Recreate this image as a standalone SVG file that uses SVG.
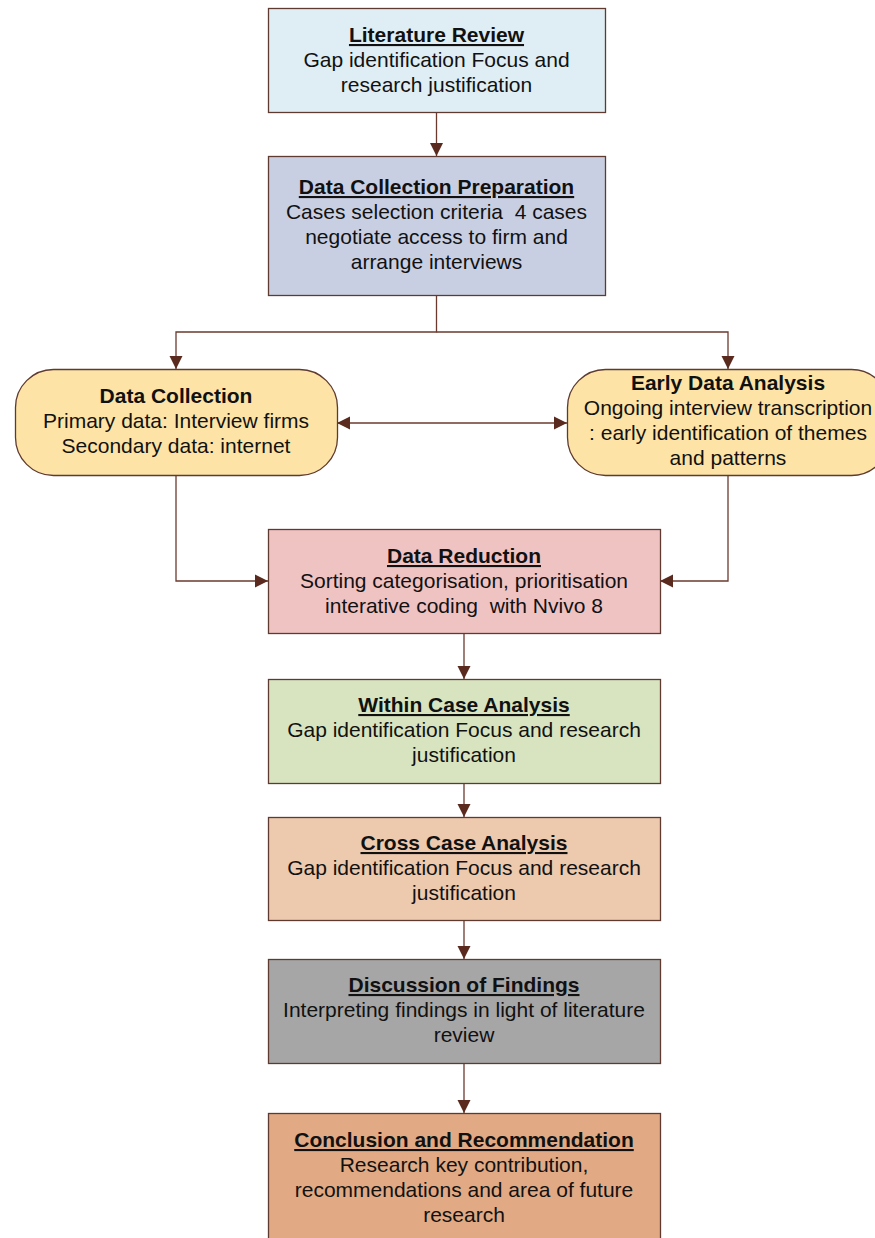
<svg xmlns="http://www.w3.org/2000/svg" width="875" height="1238" viewBox="0 0 875 1238">
<style>
.box{stroke:#5e3a30;stroke-width:1.3}
.t{font-family:"Liberation Sans",Arial,sans-serif;font-size:21px;fill:#111;text-anchor:middle}
.h{font-weight:bold;text-decoration:underline}
.hb{font-weight:bold}
.c{fill:none;stroke:#6b3a2e;stroke-width:1.3}
</style>
<defs>
<marker id="ah" markerUnits="userSpaceOnUse" markerWidth="14" markerHeight="14" viewBox="0 0 14 14" refX="13" refY="7" orient="auto-start-reverse">
<path d="M0,0.5 L13,7 L0,13.5 Z" fill="#5a2a1e"/>
</marker>
</defs>
<rect width="875" height="1238" fill="#fff"/>
<g id="connectors">
<line class="c" x1="436.5" y1="112" x2="436.5" y2="156" marker-end="url(#ah)"/>
<polyline class="c" points="436.5,295 436.5,332 176,332 176,369" marker-end="url(#ah)"/>
<polyline class="c" points="436.5,332 728,332 728,369" marker-end="url(#ah)"/>
<line class="c" x1="337" y1="423" x2="567" y2="423" marker-start="url(#ah)" marker-end="url(#ah)"/>
<polyline class="c" points="176,475 176,581 268,581" marker-end="url(#ah)"/>
<polyline class="c" points="728,475 728,581 660,581" marker-end="url(#ah)"/>
<line class="c" x1="464" y1="633" x2="464" y2="679" marker-end="url(#ah)"/>
<line class="c" x1="464" y1="783" x2="464" y2="817" marker-end="url(#ah)"/>
<line class="c" x1="464" y1="920" x2="464" y2="959" marker-end="url(#ah)"/>
<line class="c" x1="464" y1="1063" x2="464" y2="1113" marker-end="url(#ah)"/>
</g>
<g id="literature-review">
<rect class="box" x="268.5" y="8.5" width="337" height="104" fill="#deeef4"/>
<text class="t h" x="436.5" y="42">Literature Review</text>
<text class="t" x="436.5" y="67">Gap identification Focus and</text>
<text class="t" x="436.5" y="92">research justification</text>
</g>
<g id="data-collection-preparation">
<rect class="box" x="268.5" y="156.5" width="337" height="139" fill="#c9cfe2"/>
<text class="t h" x="436.5" y="194">Data Collection Preparation</text>
<text class="t" x="436.5" y="219" xml:space="preserve">Cases selection criteria  4 cases</text>
<text class="t" x="436.5" y="244">negotiate access to firm and</text>
<text class="t" x="436.5" y="269">arrange interviews</text>
</g>
<g id="data-collection">
<rect class="box" x="15.5" y="369.5" width="322" height="106" rx="38" fill="#fde4a6"/>
<text class="t hb" x="176" y="403">Data Collection</text>
<text class="t" x="176" y="428">Primary data: Interview firms</text>
<text class="t" x="176" y="453">Secondary data: internet</text>
</g>
<g id="early-data-analysis">
<rect class="box" x="567.5" y="369.5" width="322" height="106" rx="38" fill="#fde4a6"/>
<text class="t hb" x="728" y="390">Early Data Analysis</text>
<text class="t" x="728" y="415">Ongoing interview transcription</text>
<text class="t" x="728" y="440">: early identification of themes</text>
<text class="t" x="728" y="465">and patterns</text>
</g>
<g id="data-reduction">
<rect class="box" x="268.5" y="529.5" width="392" height="104" fill="#f0c3c3"/>
<text class="t h" x="464" y="563">Data Reduction</text>
<text class="t" x="464" y="588">Sorting categorisation, prioritisation</text>
<text class="t" x="464" y="613" xml:space="preserve">interative coding  with Nvivo 8</text>
</g>
<g id="within-case-analysis">
<rect class="box" x="268.5" y="679.5" width="392" height="104" fill="#d8e4c0"/>
<text class="t h" x="464" y="712">Within Case Analysis</text>
<text class="t" x="464" y="737">Gap identification Focus and research</text>
<text class="t" x="464" y="762">justification</text>
</g>
<g id="cross-case-analysis">
<rect class="box" x="268.5" y="817.5" width="392" height="103" fill="#edc9ae"/>
<text class="t h" x="464" y="850">Cross Case Analysis</text>
<text class="t" x="464" y="875">Gap identification Focus and research</text>
<text class="t" x="464" y="900">justification</text>
</g>
<g id="discussion-of-findings">
<rect class="box" x="268.5" y="959.5" width="392" height="104" fill="#a6a6a6"/>
<text class="t h" x="464" y="992">Discussion of Findings</text>
<text class="t" x="464" y="1017">Interpreting findings in light of literature</text>
<text class="t" x="464" y="1042">review</text>
</g>
<g id="conclusion-and-recommendation">
<rect class="box" x="268.5" y="1113.5" width="392" height="140" fill="#e1aa84"/>
<text class="t h" x="464" y="1147">Conclusion and Recommendation</text>
<text class="t" x="464" y="1172">Research key contribution,</text>
<text class="t" x="464" y="1197">recommendations and area of future</text>
<text class="t" x="464" y="1222">research</text>
</g>
</svg>
